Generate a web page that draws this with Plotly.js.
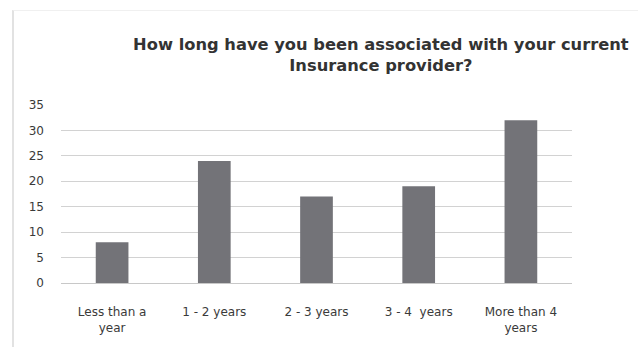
<!DOCTYPE html>
<html>
<head>
<meta charset="utf-8">
<script src="https://cdn.plot.ly/plotly-3.0.1.min.js"></script>
<style>
  html, body { margin: 0; padding: 0; background: #fff; }
  #wrap { position: relative; width: 638px; height: 347px; }
  #chart { width: 638px; height: 347px; }
  #frame { position: absolute; left: 12px; top: 10px; width: 640px; height: 360px;
           border-left: 2px solid #e2e2e2; border-top: 1px solid #f0f0f0; pointer-events: none; }
</style>
</head>
<body>
<div id="wrap">
  <div id="chart"></div>
  <div id="frame"></div>
</div>
<script>
const categories = ["Less than a<br>year", "1 - 2 years", "2 - 3 years", "3 - 4  years", "More than 4<br>years"];
const values = [8, 24, 17, 19, 32];
const yTicks = [0, 5, 10, 15, 20, 25, 30, 35];
const titleText = "How long have you been associated with your current<br>Insurance provider?";

const FONT = "DejaVu Sans, Liberation Sans, Arial, sans-serif";

const trace = {
  type: "bar",
  x: categories,
  y: values,
  marker: { color: "#737378", line: { width: 0 } },
  hoverinfo: "x+y"
};

const layout = {
  width: 638,
  height: 347,
  paper_bgcolor: "#ffffff",
  plot_bgcolor: "#ffffff",
  margin: { l: 61, r: 66, t: 105, b: 64 },
  bargap: 0.68,
  showlegend: false,
  font: { family: FONT, color: "#3a3a3a" },
  title: {
    text: titleText,
    font: { size: 16.3, color: "#333333", family: FONT, weight: "bold" },
    xref: "container",
    x: 0.597,
    xanchor: "center",
    yref: "container",
    y: 1 - 50 / 347,
    yanchor: "top"
  },
  xaxis: {
    type: "category",
    showgrid: false,
    zeroline: false,
    showline: false,
    ticks: "",
    ticklabelstandoff: 20,
    tickfont: { size: 12, color: "#3a3a3a", family: FONT },
    automargin: false
  },
  yaxis: {
    range: [0, 35],
    tickvals: yTicks,
    ticktext: yTicks.map(String),
    showgrid: true,
    gridcolor: "#d2d2d2",
    gridwidth: 1,
    zeroline: true,
    zerolinecolor: "#c8c8c8",
    zerolinewidth: 1,
    showline: false,
    ticks: "",
    ticklabelstandoff: 16,
    tickfont: { size: 12, color: "#3a3a3a", family: FONT },
    automargin: false
  }
};

Plotly.newPlot("chart", [trace], layout, { displayModeBar: false, staticPlot: true });
</script>
</body>
</html>
